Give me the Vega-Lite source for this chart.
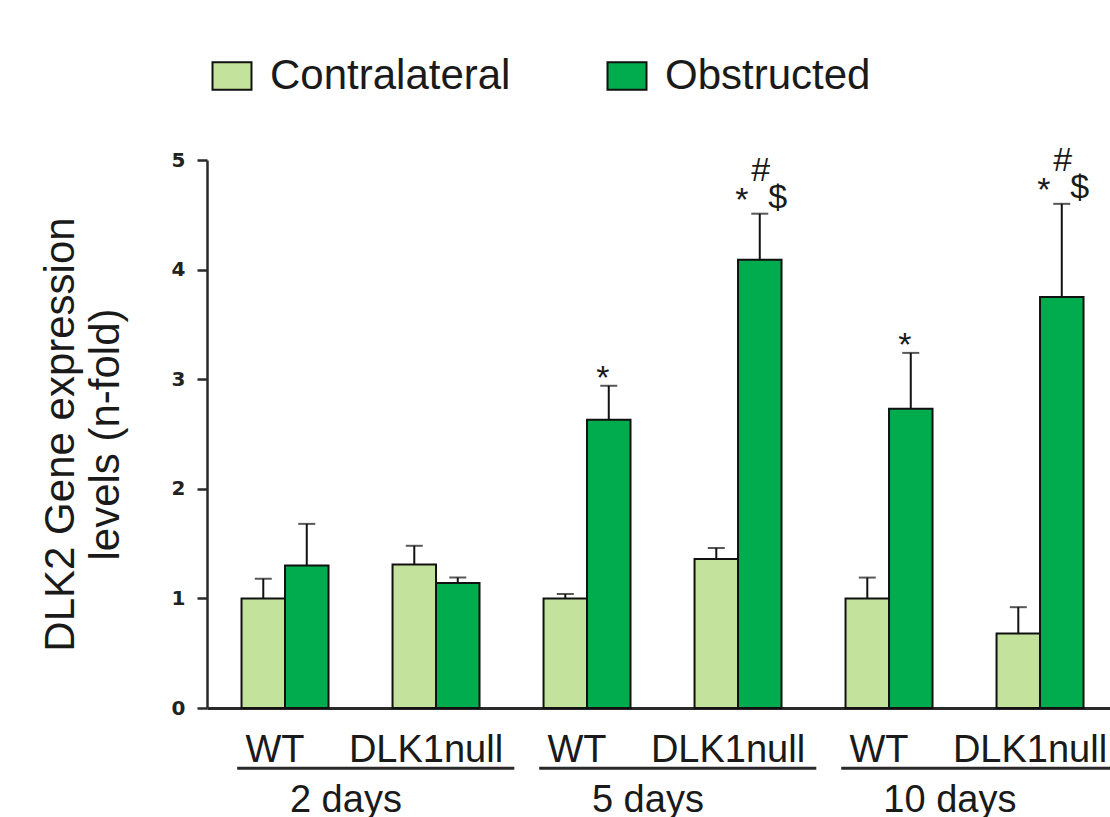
{
  "$schema": "https://vega.github.io/schema/vega-lite/v6.json",
  "width": 903,
  "height": 548,
  "autosize": {"type": "none"},
  "padding": {"left": 207, "top": 160, "right": 0, "bottom": 109},
  "background": "white",
  "config": {"view": {"stroke": null}, "font": "Liberation Sans"},
  "datasets": {
    "expr": [
      {"group": "2 days WT", "day": "2 days", "genotype": "WT", "condition": "Contralateral", "value": 1.0, "upper": 1.18, "sig": ""},
      {"group": "2 days WT", "day": "2 days", "genotype": "WT", "condition": "Obstructed", "value": 1.30, "upper": 1.68, "sig": ""},
      {"group": "2 days DLK1null", "day": "2 days", "genotype": "DLK1null", "condition": "Contralateral", "value": 1.31, "upper": 1.48, "sig": ""},
      {"group": "2 days DLK1null", "day": "2 days", "genotype": "DLK1null", "condition": "Obstructed", "value": 1.14, "upper": 1.19, "sig": ""},
      {"group": "5 days WT", "day": "5 days", "genotype": "WT", "condition": "Contralateral", "value": 1.0, "upper": 1.04, "sig": ""},
      {"group": "5 days WT", "day": "5 days", "genotype": "WT", "condition": "Obstructed", "value": 2.63, "upper": 2.94, "sig": "*"},
      {"group": "5 days DLK1null", "day": "5 days", "genotype": "DLK1null", "condition": "Contralateral", "value": 1.36, "upper": 1.46, "sig": ""},
      {"group": "5 days DLK1null", "day": "5 days", "genotype": "DLK1null", "condition": "Obstructed", "value": 4.09, "upper": 4.51, "sig": "*#$"},
      {"group": "10 days WT", "day": "10 days", "genotype": "WT", "condition": "Contralateral", "value": 1.0, "upper": 1.19, "sig": ""},
      {"group": "10 days WT", "day": "10 days", "genotype": "WT", "condition": "Obstructed", "value": 2.73, "upper": 3.24, "sig": "*"},
      {"group": "10 days DLK1null", "day": "10 days", "genotype": "DLK1null", "condition": "Contralateral", "value": 0.68, "upper": 0.92, "sig": ""},
      {"group": "10 days DLK1null", "day": "10 days", "genotype": "DLK1null", "condition": "Obstructed", "value": 3.75, "upper": 4.60, "sig": "*#$"}
    ],
    "periods": [
      {"day": "2 days", "first": "2 days WT", "last": "2 days DLK1null"},
      {"day": "5 days", "first": "5 days WT", "last": "5 days DLK1null"},
      {"day": "10 days", "first": "10 days WT", "last": "10 days DLK1null"}
    ]
  },
  "data": {"name": "expr"},
  "layer": [
    {
      "mark": {"type": "rule", "color": "#111111", "strokeWidth": 2},
      "encoding": {
        "x": {"field": "group", "type": "nominal",
          "scale": {"domain": ["2 days WT", "2 days DLK1null", "5 days WT", "5 days DLK1null", "10 days WT", "10 days DLK1null"], "paddingInner": 0.424, "paddingOuter": 0.202, "align": 0.566},
          "axis": {"labels": false, "ticks": false, "title": null, "domainWidth": 3, "domainColor": "#2a2a2a", "grid": false}},
        "xOffset": {"field": "condition", "type": "nominal", "scale": {"domain": ["Contralateral", "Obstructed"], "paddingInner": 0, "paddingOuter": 0}},
        "y": {"field": "value", "type": "quantitative", "scale": {"domain": [0, 5], "nice": false, "zero": true},
          "axis": {
            "values": [0, 1, 2, 3, 4, 5],
            "format": "d",
            "grid": false,
            "title": ["DLK2 Gene expression", "levels (n-fold)"],
            "titleFont": "Liberation Sans",
            "titleFontSize": 42,
            "titleFontWeight": "normal",
            "titleColor": "#1a1a1a",
            "titleLineHeight": 45,
            "titlePadding": 44,
            "labelFont": "DejaVu Sans",
            "labelFontWeight": "bold",
            "labelFontSize": 20,
            "labelColor": "#222222",
            "labelPadding": 12,
            "tickSize": 10,
            "tickWidth": 2.5,
            "tickColor": "#2a2a2a",
            "domainWidth": 2.5,
            "domainColor": "#2a2a2a"
          }},
        "y2": {"field": "upper"}
      }
    },
    {
      "mark": {"type": "tick", "color": "#111111", "size": 17, "thickness": 2, "orient": "horizontal"},
      "encoding": {
        "x": {"field": "group", "type": "nominal"},
        "xOffset": {"field": "condition", "type": "nominal"},
        "y": {"field": "upper", "type": "quantitative", "scale": {"domain": [0, 5], "nice": false}}
      }
    },
    {
      "mark": {"type": "bar", "stroke": "#111111", "strokeWidth": 2},
      "encoding": {
        "x": {"field": "group", "type": "nominal"},
        "xOffset": {"field": "condition", "type": "nominal"},
        "y": {"field": "value", "type": "quantitative", "scale": {"domain": [0, 5], "nice": false}},
        "color": {
          "field": "condition", "type": "nominal",
          "scale": {"domain": ["Contralateral", "Obstructed"], "range": ["#C3E29B", "#00AC4D"]},
          "legend": {
            "title": null,
            "orient": "none",
            "legendX": 4,
            "legendY": -105,
            "direction": "horizontal",
            "padding": 0,
            "symbolType": "M-1,-0.7H1V0.7H-1Z",
            "symbolSize": 1521,
            "symbolStrokeColor": "#111111",
            "symbolStrokeWidth": 2,
            "symbolOpacity": 1,
            "labelFont": "Liberation Sans",
            "labelFontSize": 42,
            "labelColor": "#1a1a1a",
            "labelOffset": 17,
            "labelLimit": 400,
            "columnPadding": 92
          }
        }
      }
    },
    {
      "transform": [{"filter": "datum.sig == '*'"}],
      "mark": {"type": "text", "text": "*", "fontSize": 34, "baseline": "alphabetic", "dx": -6, "dy": 3, "color": "#1a1a1a"},
      "encoding": {
        "x": {"field": "group", "type": "nominal"},
        "xOffset": {"field": "condition", "type": "nominal"},
        "y": {"field": "upper", "type": "quantitative", "scale": {"domain": [0, 5], "nice": false}}
      }
    },
    {
      "transform": [{"filter": "datum.sig == '*#$'"}],
      "mark": {"type": "text", "text": "*", "fontSize": 34, "baseline": "alphabetic", "dx": -18, "dy": -3, "color": "#1a1a1a"},
      "encoding": {
        "x": {"field": "group", "type": "nominal"},
        "xOffset": {"field": "condition", "type": "nominal"},
        "y": {"field": "upper", "type": "quantitative", "scale": {"domain": [0, 5], "nice": false}}
      }
    },
    {
      "transform": [{"filter": "datum.sig == '*#$'"}],
      "mark": {"type": "text", "text": "#", "fontSize": 34, "baseline": "alphabetic", "dx": 1, "dy": -33, "color": "#1a1a1a"},
      "encoding": {
        "x": {"field": "group", "type": "nominal"},
        "xOffset": {"field": "condition", "type": "nominal"},
        "y": {"field": "upper", "type": "quantitative", "scale": {"domain": [0, 5], "nice": false}}
      }
    },
    {
      "transform": [{"filter": "datum.sig == '*#$'"}],
      "mark": {"type": "text", "text": "$", "fontSize": 34, "baseline": "alphabetic", "dx": 18, "dy": -6, "color": "#1a1a1a"},
      "encoding": {
        "x": {"field": "group", "type": "nominal"},
        "xOffset": {"field": "condition", "type": "nominal"},
        "y": {"field": "upper", "type": "quantitative", "scale": {"domain": [0, 5], "nice": false}}
      }
    },
    {
      "transform": [{"filter": "datum.condition == 'Contralateral'"}],
      "mark": {"type": "text", "fontSize": 38, "baseline": "alphabetic", "dx": -10, "color": "#1a1a1a"},
      "encoding": {
        "x": {"field": "group", "type": "nominal"},
        "y": {"datum": -0.49, "type": "quantitative", "scale": {"domain": [0, 5], "nice": false}},
        "text": {"field": "genotype"}
      }
    },
    {
      "data": {"name": "periods"},
      "mark": {"type": "rule", "color": "#2a2a2a", "strokeWidth": 3},
      "encoding": {
        "x": {"field": "first", "type": "nominal", "bandPosition": -0.05},
        "x2": {"field": "last", "bandPosition": 1.4},
        "y": {"datum": -0.55, "type": "quantitative", "scale": {"domain": [0, 5], "nice": false}}
      }
    },
    {
      "data": {"name": "periods"},
      "mark": {"type": "text", "fontSize": 38, "baseline": "alphabetic", "color": "#1a1a1a"},
      "encoding": {
        "x": {"field": "first", "type": "nominal", "bandPosition": 1.2},
        "y": {"datum": -0.95, "type": "quantitative", "scale": {"domain": [0, 5], "nice": false}},
        "text": {"field": "day"}
      }
    }
  ]
}
